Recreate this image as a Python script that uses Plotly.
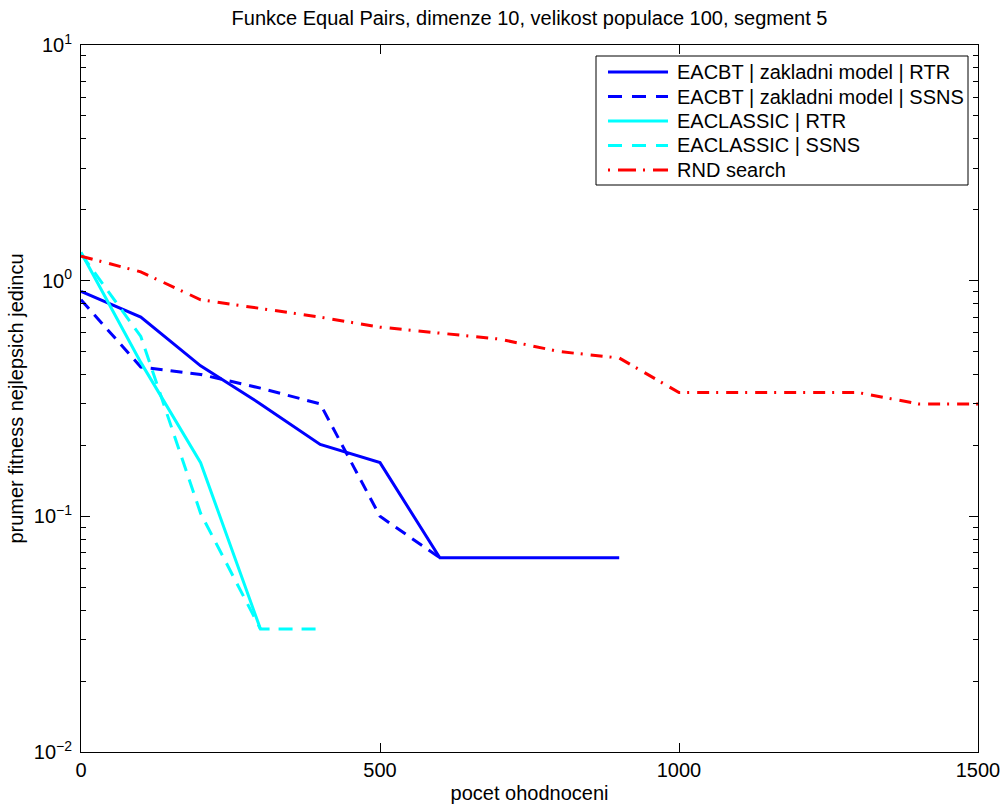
import plotly.graph_objects as go

# ---------------- data ----------------
title_text = "Funkce Equal Pairs, dimenze 10, velikost populace 100, segment 5"
x_label = "pocet ohodnoceni"
y_label = "prumer fitness nejlepsich jedincu"

series_names = [
    "EACBT | zakladni model | RTR",
    "EACBT | zakladni model | SSNS",
    "EACLASSIC | RTR",
    "EACLASSIC | SSNS",
    "RND search",
]

eacbt_rtr_x = [0, 100, 200, 300, 400, 500, 600, 700, 800, 900]
eacbt_rtr_y = [0.90, 0.70, 0.435, 0.30, 0.202, 0.169, 0.0667, 0.0667, 0.0667, 0.0667]

eacbt_ssns_x = [0, 100, 200, 300, 400, 500, 600]
eacbt_ssns_y = [0.83, 0.43, 0.40, 0.35, 0.30, 0.10, 0.0667]

classic_rtr_x = [0, 100, 200, 300]
classic_rtr_y = [1.32, 0.45, 0.169, 0.0333]

classic_ssns_x = [0, 100, 200, 300, 400]
classic_ssns_y = [1.30, 0.58, 0.103, 0.0333, 0.0333]

rnd_x = [0, 100, 200, 300, 400, 500, 600, 700, 800, 900, 1000, 1100, 1200, 1300, 1400, 1500]
rnd_y = [1.27, 1.09, 0.83, 0.765, 0.70, 0.635, 0.60, 0.565, 0.50, 0.47,
         0.335, 0.335, 0.335, 0.335, 0.30, 0.30]

x_tick_vals = [0, 500, 1000, 1500]
x_tick_labels = ["0", "500", "1000", "1500"]
y_tick_vals = [0.01, 0.1, 1, 10]
y_tick_labels = ["10<sup>\u22122</sup>", "10<sup>\u22121</sup>", "10<sup>0</sup>", "10<sup>1</sup>"]

# ---------------- styles ----------------
FONT = "Liberation Sans, Arial, Helvetica, sans-serif"
FS = 20
colors = ["#0000FF", "#0000FF", "#00FFFF", "#00FFFF", "#FF0000"]
plot_dashes = ["solid", "12px,8px", "solid", "14px,9px", "12px,7px,2px,8px"]
legend_dashes = ["solid", "14px,10px", "solid", "14px,10px", "2px,8px,18px,7px"]

W, H = 1000, 804
ML, MR, MT, MB = 81, 22, 45, 52
PW, PH = W - ML - MR, H - MT - MB


def px_x(px):
    return (px - ML) / PW


def px_y(py):
    return (H - MB - py) / PH


series = [
    (eacbt_rtr_x, eacbt_rtr_y),
    (eacbt_ssns_x, eacbt_ssns_y),
    (classic_rtr_x, classic_rtr_y),
    (classic_ssns_x, classic_ssns_y),
    (rnd_x, rnd_y),
]

fig = go.Figure()
for (xs, ys), name, c, d in zip(series, series_names, colors, plot_dashes):
    fig.add_trace(go.Scatter(
        x=xs, y=ys, mode="lines", name=name,
        line=dict(color=c, width=3, dash=d),
        showlegend=False,
    ))

minor_vals = [m * 10 ** e for e in (-2, -1, 0) for m in range(2, 10)]

fig.update_layout(
    width=W, height=H,
    margin=dict(l=ML, r=MR, t=MT, b=MB, autoexpand=False),
    paper_bgcolor="white", plot_bgcolor="white",
    font=dict(family=FONT, size=FS, color="black"),
    title=dict(text=title_text, x=(ML + PW / 2) / W, xanchor="center",
               y=1 - 18 / H, yanchor="middle", yref="container",
               font=dict(family=FONT, size=FS, color="black")),
    xaxis=dict(
        range=[0, 1500], tickmode="array", tickvals=x_tick_vals, ticktext=x_tick_labels,
        ticks="inside", ticklen=9, tickwidth=1, tickcolor="black",
        showline=True, linecolor="black", linewidth=1, mirror="ticks",
        showgrid=False, zeroline=False, automargin=False,
        title=dict(text=x_label, standoff=8, font=dict(family=FONT, size=FS)),
        tickfont=dict(family=FONT, size=FS),
        ticklabelstandoff=0, ticklabeloverflow="allow",
    ),
    yaxis=dict(
        type="log", range=[-2, 1], tickmode="array", tickvals=y_tick_vals, ticktext=y_tick_labels,
        ticks="inside", ticklen=9, tickwidth=1, tickcolor="black",
        minor=dict(tickmode="array", tickvals=minor_vals, ticks="inside", ticklen=5,
                   tickwidth=1, tickcolor="black", showgrid=False),
        showline=True, linecolor="black", linewidth=1, mirror="ticks",
        showgrid=False, zeroline=False, automargin=False,
        title=dict(text=y_label, standoff=4, font=dict(family=FONT, size=FS)),
        tickfont=dict(family=FONT, size=FS),
        ticklabelstandoff=4, ticklabeloverflow="allow",
    ),
)

# ---------------- custom MATLAB-like legend ----------------
shapes = [dict(type="rect", xref="paper", yref="paper",
               x0=px_x(596), x1=px_x(968), y0=px_y(185), y1=px_y(56),
               line=dict(color="black", width=1), fillcolor="white", layer="above")]
annotations = []
row_y = [72, 96.5, 121, 145.5, 170]
for name, c, d, ry in zip(series_names, colors, legend_dashes, row_y):
    shapes.append(dict(type="line", xref="paper", yref="paper",
                       x0=px_x(608), x1=px_x(668), y0=px_y(ry), y1=px_y(ry),
                       line=dict(color=c, width=3, dash=d), layer="above"))
    annotations.append(dict(text=name, xref="paper", yref="paper",
                            x=px_x(675), y=px_y(ry), xanchor="left", yanchor="middle",
                            showarrow=False, font=dict(family=FONT, size=FS, color="black")))
fig.update_layout(shapes=shapes, annotations=annotations)

fig.write_html("out.html", config={"displayModeBar": False},
               post_script="document.body.style.margin='0';document.body.style.padding='0';")
